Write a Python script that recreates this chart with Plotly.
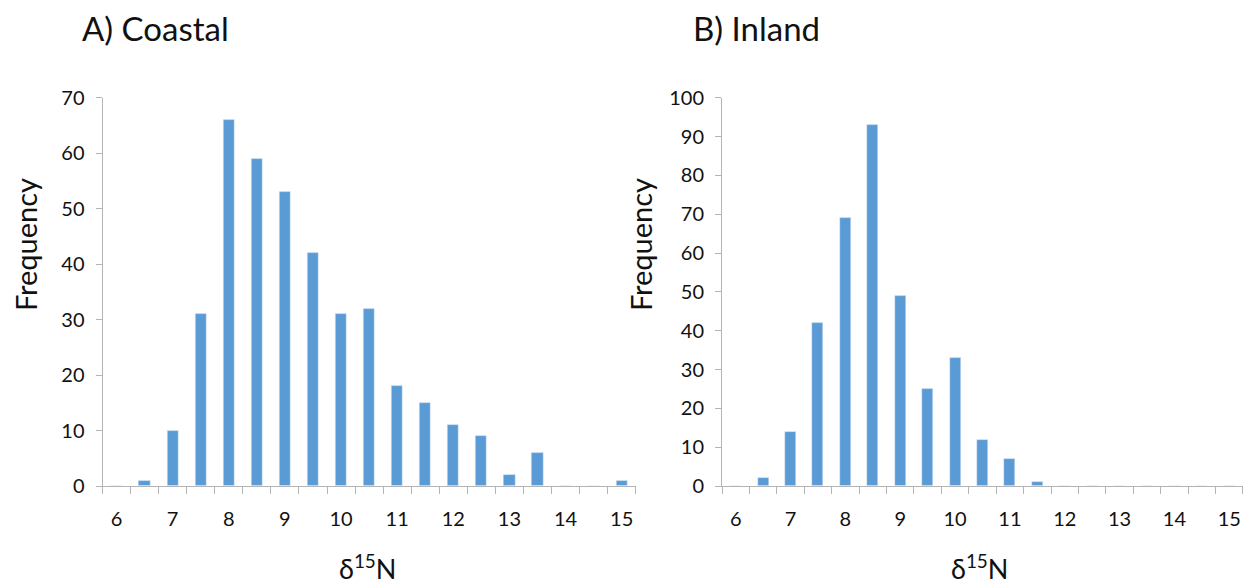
import plotly.graph_objects as go

# Bin centres (δ15N, 0.5 ‰ bins) and counts for each site group
bins = [6, 6.5, 7, 7.5, 8, 8.5, 9, 9.5, 10, 10.5, 11, 11.5, 12, 12.5, 13, 13.5, 14, 14.5, 15]
coastal_counts = [0, 1, 10, 31, 66, 59, 53, 42, 31, 32, 18, 15, 11, 9, 2, 6, 0, 0, 1]
inland_counts = [0, 2, 14, 42, 69, 93, 49, 25, 33, 12, 7, 1, 0, 0, 0, 0, 0, 0, 0]

x_tick_vals = [6, 7, 8, 9, 10, 11, 12, 13, 14, 15]
x_tick_text = [str(v) for v in x_tick_vals]
coastal_y_ticks = [0, 10, 20, 30, 40, 50, 60, 70]
inland_y_ticks = [0, 10, 20, 30, 40, 50, 60, 70, 80, 90, 100]

W, H = 1249, 584
BAR_COLOR = "#5B9BD5"
AXIS_GRAY = "#B4B4B4"
FONT = "Lato"
TEXT = "#111111"

fig = go.Figure()
fig.add_trace(go.Bar(x=bins, y=coastal_counts, width=0.2, marker_color=BAR_COLOR,
                     xaxis="x", yaxis="y", showlegend=False))
fig.add_trace(go.Bar(x=bins, y=inland_counts, width=0.2, marker_color=BAR_COLOR,
                     xaxis="x2", yaxis="y2", showlegend=False))

y_dom = [(H - 493.3) / H, (H - 88.5) / H]


def x_axis(dom, anchor):
    return dict(
        domain=dom, anchor=anchor, range=[5.7499, 15.2501],
        tickmode="array", tickvals=x_tick_vals, ticktext=x_tick_text, ticks="",
        minor=dict(tick0=5.75, dtick=0.5, ticks="outside", ticklen=7,
                   tickcolor=AXIS_GRAY, tickwidth=1, showgrid=False),
        showline=True, linecolor=AXIS_GRAY, linewidth=1, showgrid=False,
        zeroline=False, ticklabelstandoff=15,
        tickfont=dict(family=FONT, size=20, color=TEXT),
    )


def y_axis(dom, anchor, ticks_list):
    return dict(
        domain=dom, anchor=anchor, range=[0, ticks_list[-1]],
        tickmode="array", tickvals=ticks_list, ticks="outside", ticklen=6,
        tickcolor=AXIS_GRAY, tickwidth=1,
        showline=True, linecolor=AXIS_GRAY, linewidth=1, showgrid=False,
        zeroline=False, ticklabelstandoff=7,
        tickfont=dict(family=FONT, size=20, color=TEXT),
    )


fig.update_layout(
    width=W, height=H,
    margin=dict(l=0, r=0, t=0, b=0),
    paper_bgcolor="white", plot_bgcolor="white",
    bargap=0,
    xaxis=x_axis([102.5 / W, 635.7 / W], "y"),
    yaxis=y_axis(y_dom, "x", coastal_y_ticks),
    xaxis2=x_axis([722 / W, 1243 / W], "y2"),
    yaxis2=y_axis(y_dom, "x2", inland_y_ticks),
)


def label(text, x, y, size, angle=0):
    fig.add_annotation(text=text, x=x / W, y=1 - y / H, xref="paper", yref="paper",
                       showarrow=False, textangle=angle, xanchor="center", yanchor="middle",
                       font=dict(family=FONT, size=size, color=TEXT))


# Panel titles
label("A) Coastal", 155, 16, 33)
label("B) Inland", 756, 16, 33)
# Axis titles
label("Frequency", 25, 242, 29, angle=-90)
label("Frequency", 640, 242, 29, angle=-90)
label("δ<sup>15</sup>N", 367, 578, 27)
label("δ<sup>15</sup>N", 979, 578, 27)

fig.write_html("out.html")
